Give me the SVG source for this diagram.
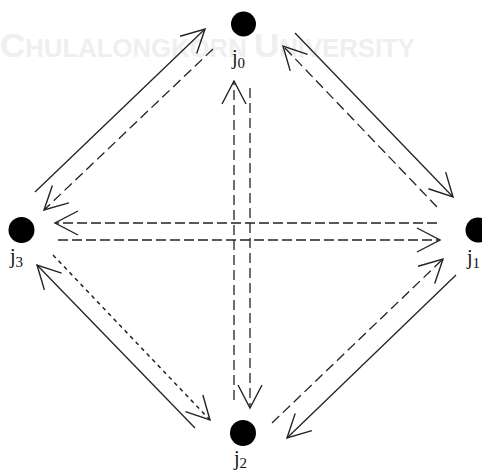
<svg xmlns="http://www.w3.org/2000/svg" width="482" height="473" viewBox="0 0 482 473">
<style>
.wm{font-family:"Liberation Sans",Arial,sans-serif;font-weight:bold;fill:#efefef}
.ln{fill:none;stroke:#222;stroke-width:1.3}
.da{stroke-dasharray:10 5}
.dh{stroke-width:1.7;stroke-dasharray:10 4}
.dt{stroke-width:1.5;stroke-dasharray:4 4}
.node{fill:#000}
.lbl{font-family:"Liberation Serif","Times New Roman",serif;fill:#111}
</style>
<defs>
<marker id="ah" markerUnits="userSpaceOnUse" markerWidth="28" markerHeight="28" viewBox="0 0 28 28" refX="25" refY="14" orient="auto">
<path d="M2,2 L25,14 L2,26" fill="none" stroke="#222" stroke-width="1.4"/>
</marker>
</defs>
<rect width="482" height="473" fill="#fff"/>
<text class="wm" x="0" y="57" textLength="415" lengthAdjust="spacingAndGlyphs"><tspan font-size="34">C</tspan><tspan font-size="25">HULALONGKORN </tspan><tspan font-size="34">U</tspan><tspan font-size="25">NIVERSITY</tspan></text>
<g id="connectors">
<line class="ln" x1="35" y1="192" x2="205" y2="29" marker-end="url(#ah)"/>
<line class="ln da" x1="213" y1="49" x2="44" y2="210" marker-end="url(#ah)"/>
<line class="ln" x1="295" y1="33" x2="453" y2="197" marker-end="url(#ah)"/>
<line class="ln da" x1="437" y1="207" x2="283" y2="46" marker-end="url(#ah)"/>
<line class="ln dh" x1="437" y1="223" x2="55" y2="223" marker-end="url(#ah)"/>
<line class="ln dh" x1="58" y1="240" x2="440" y2="240" marker-end="url(#ah)"/>
<line class="ln da" x1="234" y1="400" x2="234" y2="81" marker-end="url(#ah)"/>
<line class="ln da" x1="250" y1="88" x2="250" y2="408" marker-end="url(#ah)"/>
<line class="ln" x1="195" y1="428" x2="37" y2="265" marker-end="url(#ah)"/>
<line class="ln dt" x1="53" y1="255" x2="210" y2="420" marker-end="url(#ah)"/>
<line class="ln da" x1="272" y1="423" x2="443" y2="259" marker-end="url(#ah)"/>
<line class="ln" x1="456" y1="275" x2="287" y2="438" marker-end="url(#ah)"/>
</g>
<g id="j0">
<circle class="node" cx="243.5" cy="24" r="12.5"/>
<text class="lbl" x="232" y="64" font-size="20">j<tspan font-size="15" dy="4">0</tspan></text>
</g>
<g id="j1">
<circle class="node" cx="478" cy="230" r="12.5"/>
<text class="lbl" x="467" y="264" font-size="20">j<tspan font-size="15" dy="4">1</tspan></text>
</g>
<g id="j2">
<circle class="node" cx="243" cy="433" r="13"/>
<text class="lbl" x="234" y="465" font-size="20">j<tspan font-size="15" dy="3">2</tspan></text>
</g>
<g id="j3">
<circle class="node" cx="21.5" cy="230" r="13"/>
<text class="lbl" x="10" y="263" font-size="20">j<tspan font-size="15" dy="4">3</tspan></text>
</g>
</svg>
